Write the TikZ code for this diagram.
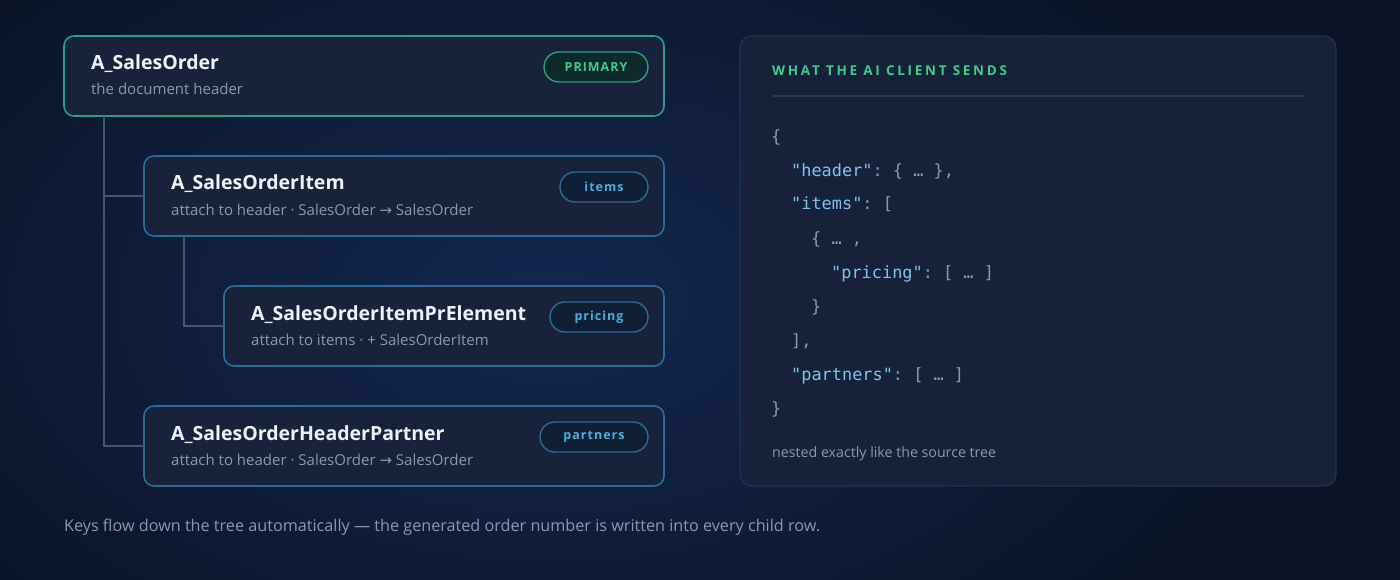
\documentclass[tikz,border=0pt]{standalone}
\usepackage{fontspec}
\setmainfont{Open Sans}
\setmonofont{DejaVu Sans Mono}
\newfontfamily\arrowfont{DejaVu Sans}
\usetikzlibrary{positioning,calc}
\definecolor{bgdark}{HTML}{0B1427}
\definecolor{bgglow}{HTML}{122850}
\definecolor{cardbg}{HTML}{18223A}
\definecolor{tealline}{HTML}{2F9E86}
\definecolor{blueline}{HTML}{2B6B98}
\definecolor{panelline}{HTML}{27324A}
\definecolor{panelbg}{HTML}{18213A}
\definecolor{greenfill}{HTML}{0F2A2B}
\definecolor{bluefill}{HTML}{0F1F35}
\definecolor{greentxt}{HTML}{3FCB8C}
\definecolor{bluetxt}{HTML}{4BAEE3}
\definecolor{titletxt}{HTML}{EEF2F8}
\definecolor{subtxt}{HTML}{8C98AE}
\definecolor{keytxt}{HTML}{7CC4EE}
\definecolor{punctxt}{HTML}{8E98AC}
\definecolor{treegray}{HTML}{4A5468}
\definecolor{rulegray}{HTML}{2A3550}
\newcommand{\jkey}[1]{\textcolor{keytxt}{#1}}
\newcommand{\rarr}{{\arrowfont →}}

\begin{document}
\begin{tikzpicture}[x=1pt,y=-1pt,
    card/.style={draw,fill=cardbg,line width=1.6pt,rounded corners=10pt,inner sep=0pt,outer sep=0pt,minimum height=80pt,anchor=north west},
    tname/.style={anchor=base west,inner sep=0pt,text=titletxt,font=\fontsize{19.5}{23}\selectfont\bfseries},
    tsub/.style={anchor=base west,inner sep=0pt,text=subtxt,font=\fontsize{15}{18}\selectfont},
    pill/.style={draw,line width=1.4pt,rounded corners=15pt,minimum height=30pt,inner sep=0pt,outer sep=0pt,anchor=east,font=\fontsize{12.5}{14}\selectfont\bfseries\addfontfeatures{LetterSpace=8}},
    tagteal/.style={pill,draw=tealline,fill=greenfill,text=greentxt},
    tagblue/.style={pill,draw=blueline,fill=bluefill,text=bluetxt},
    branch/.style={draw=treegray,line width=1.5pt},
    codeline/.style={anchor=base west,inner sep=0pt,text=punctxt,font=\fontsize{16.9}{19}\selectfont\ttfamily}]
        % Background
        \useasboundingbox(0,0)rectangle(1400,580);
        \fill[bgdark](0,0)rectangle(1400,580);
        \shade[inner color=bgglow,outer color=bgdark](-200,-150)rectangle(1300,750);
        % Source tree cards
        \node[card,draw=tealline,minimum width=600pt](hdr)at(64,36){};
        \node[card,draw=blueline,minimum width=520pt](item)at(144,156){};
        \node[card,draw=blueline,minimum width=440pt](pricing)at(224,286){};
        \node[card,draw=blueline,minimum width=520pt](partner)at(144,406){};
        % Tree lines
        \draw[branch]($(hdr.south west)+(40,0)$)|-(item.west);
        \draw[branch]($(hdr.south west)+(40,0)$)|-(partner.west);
        \draw[branch]($(item.south west)+(40,0)$)|-(pricing.west);
        % Card texts
        \node[tname](hdrname)at($(hdr.north west)+(27,34)$){A\_SalesOrder};
        \node[tsub](hdrsub)at($(hdr.north west)+(27,59)$){the document header};
        \node[tagteal,minimum width=104pt](hdrtag)at($(hdr.north east)+(-16,31)$){PRIMARY};
        \node[tname](itemname)at($(item.north west)+(27,34)$){A\_SalesOrderItem};
        \node[tsub](itemsub)at($(item.north west)+(27,59)$){attach to header · SalesOrder \rarr\ SalesOrder};
        \node[tagblue,minimum width=88pt](itemtag)at($(item.north east)+(-16,31)$){items};
        \node[tname](pricingname)at($(pricing.north west)+(27,34)$){A\_SalesOrderItemPrElement};
        \node[tsub](pricingsub)at($(pricing.north west)+(27,59)$){attach to items · + SalesOrderItem};
        \node[tagblue,minimum width=98pt](pricingtag)at($(pricing.north east)+(-16,31)$){pricing};
        \node[tname](partnername)at($(partner.north west)+(27,34)$){A\_SalesOrderHeaderPartner};
        \node[tsub](partnersub)at($(partner.north west)+(27,59)$){attach to header · SalesOrder \rarr\ SalesOrder};
        \node[tagblue,minimum width=108pt](partnertag)at($(partner.north east)+(-16,31)$){partners};
        % Payload panel
        \node[draw=panelline,fill=panelbg,line width=1.2pt,rounded corners=12pt,inner sep=0pt,outer sep=0pt,minimum width=596pt,minimum height=450pt,anchor=north west](out)at(740,36){};
        \node[anchor=base west,inner sep=0pt,text=greentxt,font=\fontsize{13.5}{16}\selectfont\bfseries\addfontfeatures{LetterSpace=20}](outhead)at($(out.north west)+(32,40)$){WHAT THE AI CLIENT SENDS};
        \coordinate(ruleL)at($(out.north west)+(32,60)$);
        \coordinate(ruleR)at($(out.north east)+(-32,60)$);
        \draw[rulegray,line width=2pt](ruleL)--(ruleR);
        % JSON lines
        \node[codeline](c1)at(771,143){\{};
        \node[codeline](c2)at(791,177){\jkey{"header"}: \{ … \},};
        \node[codeline](c3)at(791,210){\jkey{"items"}: [};
        \node[codeline](c4)at(811,244){\{ … ,};
        \node[codeline](c5)at(831,278){\jkey{"pricing"}: [ … ]};
        \node[codeline](c6)at(811,312){\}};
        \node[codeline](c7)at(791,346){],};
        \node[codeline](c8)at(791,380){\jkey{"partners"}: [ … ]};
        \node[codeline](c9)at(771,414){\}};
        \node[anchor=base west,inner sep=0pt,text=subtxt,font=\fontsize{14.2}{17}\selectfont](outnote)at($(out.north west)+(32,421)$){nested exactly like the source tree};
        % Caption
        \node[anchor=base west,inner sep=0pt,text=subtxt,font=\fontsize{16.2}{19}\selectfont](caption)at(64,531){Keys flow down the tree automatically — the generated order number is written into every child row.};
    \end{tikzpicture}
\end{document}
